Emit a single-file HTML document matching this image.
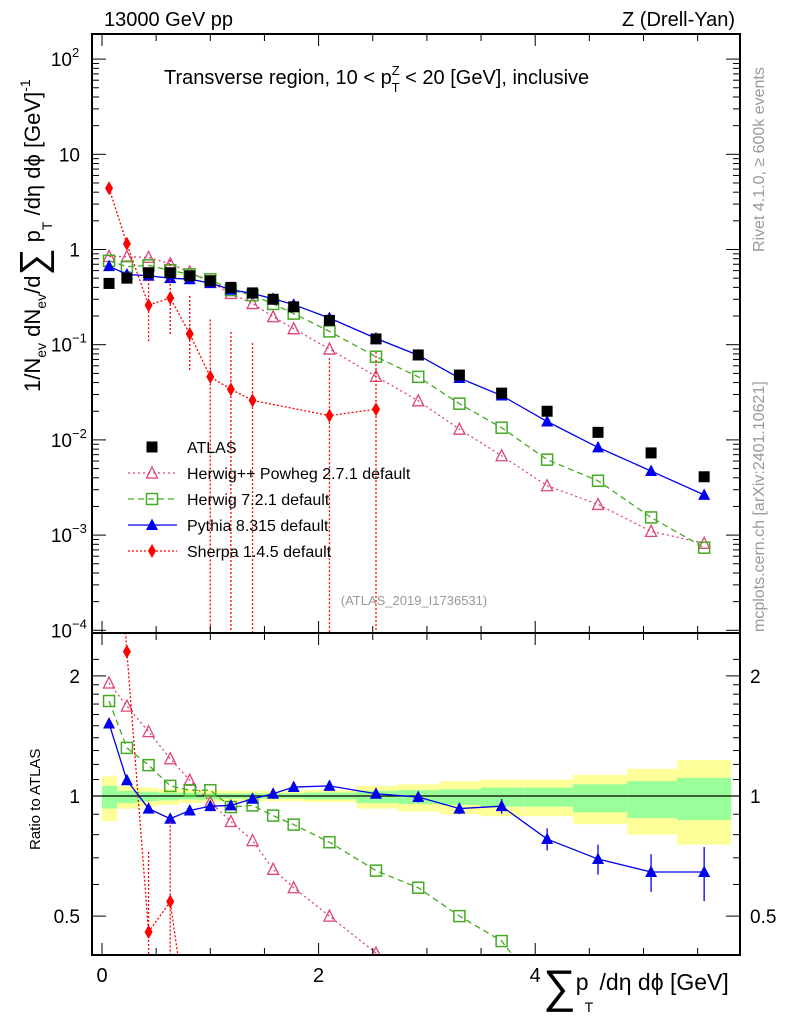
<!DOCTYPE html>
<html><head><meta charset="utf-8"><style>
html,body{margin:0;background:#fff;width:786px;height:1024px;overflow:hidden}
svg{font-family:"Liberation Sans",sans-serif;display:block;position:absolute;left:0;top:0}
</style></head><body>
<svg id="c" width="786" height="1024" xmlns="http://www.w3.org/2000/svg"></svg>
<script>
const xs=[0.065,0.23,0.43,0.63,0.81,1.0,1.19,1.39,1.58,1.77,2.1,2.53,2.92,3.3,3.69,4.11,4.58,5.07,5.56];
const edges=[0,0.14,0.33,0.52,0.71,0.91,1.1,1.29,1.48,1.68,1.87,2.35,2.73,3.12,3.5,3.89,4.35,4.85,5.31,5.81];
const atlas=[0.44,0.5,0.57,0.57,0.53,0.47,0.4,0.35,0.3,0.25,0.18,0.115,0.078,0.048,0.031,0.02,0.012,0.0073,0.0041];
const yelUp=[1.12,1.06,1.05,1.04,1.04,1.035,1.03,1.03,1.03,1.03,1.035,1.06,1.07,1.09,1.1,1.1,1.13,1.17,1.23];
const yelDn=[0.865,0.93,0.94,0.95,0.96,0.965,0.97,0.97,0.97,0.97,0.965,0.93,0.915,0.9,0.89,0.89,0.85,0.8,0.755];
const grnUp=[1.06,1.03,1.025,1.02,1.02,1.015,1.015,1.015,1.015,1.015,1.02,1.03,1.035,1.04,1.05,1.05,1.07,1.09,1.11];
const grnDn=[0.93,0.96,0.97,0.975,0.98,0.98,0.985,0.985,0.985,0.985,0.98,0.96,0.955,0.95,0.94,0.94,0.91,0.88,0.87];
const rHpp=[1.92,1.68,1.45,1.24,1.095,0.965,0.863,0.773,0.655,0.589,0.5,0.404,0.33,0.27,0.22,0.165,0.175,0.15,0.2];
const rH7=[1.73,1.32,1.195,1.06,1.034,1.034,0.938,0.947,0.893,0.848,0.766,0.65,0.589,0.5,0.433,0.31,0.31,0.21,0.18];
const rPy=[1.52,1.095,0.93,0.877,0.92,0.943,0.947,0.984,1.013,1.053,1.06,1.013,0.994,0.93,0.943,0.78,0.695,0.645,0.645];
const pyErr=[0,0,0,0,0,0,0,0.01,0.01,0.01,0.01,0.02,0.03,0.03,0.04,0.05,0.06,0.07,0.1];
const shX=[0.065,0.23,0.43,0.63,0.81,1.0,1.19,1.39,2.1,2.53];
const shV=[4.4,1.15,0.26,0.31,0.13,0.046,0.034,0.026,0.018,0.021];
const NS="http://www.w3.org/2000/svg",svg=document.getElementById('c');
const L=92,R=740,T=34,MB=633,RB=955;
const X=v=>102+v*108.3;
const Y=v=>249.5-95.2*Math.log10(v);
const YRc=v=>796-399*Math.log10(v);
function el(t,a,p){const e=document.createElementNS(NS,t);for(const k in a)e.setAttribute(k,a[k]);(p||svg).appendChild(e);return e;}
function txt(x,y,s,a,p){const e=el('text',Object.assign({x:x,y:y,'font-size':18},a||{}),p);e.textContent=s;return e;}
const defs=el('defs',{});
const c1=el('clipPath',{id:'cm'},defs);el('rect',{x:L,y:T,width:R-L,height:MB-T},c1);
const c2=el('clipPath',{id:'cr'},defs);el('rect',{x:L,y:MB,width:R-L,height:RB-MB},c2);
const gm=el('g',{'clip-path':'url(#cm)'});
const gr=el('g',{'clip-path':'url(#cr)'});
for(let i=0;i<xs.length;i++){
 const x0=X(edges[i]),x1=X(edges[i+1]);
 const b=el('rect',{x:x0,y:YRc(yelUp[i]),width:x1-x0,height:YRc(yelDn[i])-YRc(yelUp[i]),fill:'#ffff99'},gr);
 
 const g=el('rect',{x:x0,y:YRc(grnUp[i]),width:x1-x0,height:YRc(grnDn[i])-YRc(grnUp[i]),fill:'#99ff99'},gr);
 
}
el('line',{x1:L,x2:R,y1:YRc(1),y2:YRc(1),stroke:'#000','stroke-width':1.3},gr);
function marker(g,type,x,y,col){
 let m;
 if(type==='sq') m=el('rect',{x:x-5.5,y:y-5.5,width:11,height:11,fill:'#000'},g);
 else if(type==='osq') m=el('rect',{x:x-5.5,y:y-5.5,width:11,height:11,fill:'none',stroke:col,'stroke-width':1.5},g);
 else if(type==='otri') m=el('path',{d:`M${x},${y-6}L${x+5.5},${y+5}L${x-5.5},${y+5}Z`,fill:'none',stroke:col,'stroke-width':1.3},g);
 else if(type==='tri') m=el('path',{d:`M${x},${y-6.5}L${x+6},${y+5}L${x-6},${y+5}Z`,fill:col},g);
 else m=el('path',{d:`M${x},${y-7}L${x+4},${y}L${x},${y+7}L${x-4},${y}Z`,fill:col},g);
 
}
const series=[
 {name:'herwigpp',r:rHpp,col:'#dd4477',dash:'2,3',m:'otri'},
 {name:'herwig7',r:rH7,col:'#44aa22',dash:'6,4',m:'osq'},
 {name:'pythia',r:rPy,col:'#0000ee',dash:'',m:'tri'}];
for(const s of series){
 const mp=xs.map((x,i)=>[X(x),Y(s.r[i]*atlas[i])]);
 const rp=xs.map((x,i)=>[X(x),YRc(s.r[i])]);
 const l1=el('polyline',{points:mp.join(' '),fill:'none',stroke:s.col,'stroke-width':1.3,'stroke-dasharray':s.dash},gm);
 
 const l2=el('polyline',{points:rp.join(' '),fill:'none',stroke:s.col,'stroke-width':1.3,'stroke-dasharray':s.dash},gr);
 
 mp.forEach(p=>marker(gm,s.m,p[0],p[1],s.col));
 rp.forEach((p,i)=>{
  if(s.name==='pythia'&&pyErr[i]>0){el('line',{x1:p[0],x2:p[0],y1:YRc(s.r[i]+pyErr[i]),y2:YRc(s.r[i]-pyErr[i]),stroke:s.col,'stroke-width':1.3},gr);}
  marker(gr,s.m,p[0],p[1],s.col);});
}
const shM=shX.map((x,i)=>[X(x),Y(shV[i])]);
const shR=shX.map((x,i)=>[X(x),YRc(shV[i]/atlas[xs.indexOf(x)])]);
const sl=el('polyline',{points:shM.join(' '),fill:'none',stroke:'#ff0000','stroke-width':1.3,'stroke-dasharray':'2,2'},gm);

const sl2=el('polyline',{points:shR.join(' '),fill:'none',stroke:'#ff0000','stroke-width':1.3,'stroke-dasharray':'2,2'},gr);

shM.forEach((p,i)=>{if(i>=2){el('line',{x1:p[0],x2:p[0],y1:Y(shV[i]*(i>=5?4:2.5)),y2:i>=5?MB:Y(shV[i]/2.5),stroke:'#ff0000','stroke-width':1.3,'stroke-dasharray':'2,2'},gm);}marker(gm,'dia',p[0],p[1],'#ff0000');});
shR.forEach((p,i)=>{if(i>=2)el('line',{x1:p[0],x2:p[0],y1:p[1]-80,y2:RB,stroke:'#ff0000','stroke-width':1.3,'stroke-dasharray':'2,2'},gr);marker(gr,'dia',p[0],p[1],'#ff0000');});
atlas.forEach((v,i)=>marker(gm,'sq',X(xs[i]),Y(v),'#000'));
el('rect',{x:L,y:T,width:R-L,height:MB-T,fill:'none',stroke:'#000','stroke-width':2});
el('rect',{x:L,y:MB,width:R-L,height:RB-MB,fill:'none',stroke:'#000','stroke-width':2});
for(let v=0;v<=5.9;v+=0.5){const x=X(v),maj=Math.abs(v-Math.round(v/2)*2)<0.01;const h=maj?12:7;
 for(const [yb,yt] of [[MB,T],[RB,MB]]){el('line',{x1:x,x2:x,y1:yb,y2:yb-h,stroke:'#000'});el('line',{x1:x,x2:x,y1:yt,y2:yt+h,stroke:'#000'});}
 if(maj){const t=txt(x,982,String(Math.round(v)),{'text-anchor':'middle','font-size':20});}}
for(let e=-4;e<=2;e++){for(let k=1;k<10;k++){const v=k*Math.pow(10,e),y=Y(v);if(y<T||y>MB)continue;const h=k===1?14:7;
 el('line',{x1:L,x2:L+h,y1:y,y2:y,stroke:'#000'});el('line',{x1:R,x2:R-h,y1:y,y2:y,stroke:'#000'});}}
const ylab=[[2,'10','2'],[1,'10',''],[0,'1',''],[-1,'10','−1'],[-2,'10','−2'],[-3,'10','−3'],[-4,'10','−4']];
ylab.forEach(([e,b,s])=>{const y=Y(Math.pow(10,e))+7;const t=el('text',{x:s?72:80,y:y,'font-size':19,'text-anchor':'end'});t.textContent=b;
 
 if(s){txt(72,y-9,s,{'font-size':13});}});
[0.5,0.6,0.7,0.8,0.9,1,1.1,1.2,1.3,1.4,1.5,1.6,1.7,1.8,1.9,2,2.2].forEach(v=>{const y=YRc(v);if(y<MB||y>RB)return;const h=(v===0.5||v===1||v===2)?14:7;
 el('line',{x1:L,x2:L+h,y1:y,y2:y,stroke:'#000'});el('line',{x1:R,x2:R-h,y1:y,y2:y,stroke:'#000'});});
[[2,'2'],[1,'1'],[0.5,'0.5']].forEach(([v,s])=>{const y=YRc(v)+7;
 const a=txt(80,y,s,{'text-anchor':'end','font-size':19});
 const b=txt(750,y,s,{'font-size':19});});
const leg=[['ATLAS','sq','#000',''],['Herwig++ Powheg 2.7.1 default','otri','#dd4477','2,3'],['Herwig 7.2.1 default','osq','#44aa22','6,4'],['Pythia 8.315 default','tri','#0000ee',''],['Sherpa 1.4.5 default','dia','#ff0000','2,2']];
leg.forEach((l,i)=>{const y=447+i*26;const g=el('g',{});
 if(i>0)el('line',{x1:128,x2:177,y1:y,y2:y,stroke:l[2],'stroke-width':1.3,'stroke-dasharray':l[3]},g);
 marker(g,l[1],152,y,l[2]);txt(187,y+6,l[0],{'font-size':16},g);});
</script>
<svg width="786" height="1024" xmlns="http://www.w3.org/2000/svg">
<text x="104" y="26" font-size="20" font-family="Liberation Sans">13000 GeV pp</text>
<text x="735" y="26" font-size="20" text-anchor="end" font-family="Liberation Sans">Z (Drell-Yan)</text>
<text x="164" y="84" font-size="20" font-family="Liberation Sans">Transverse region, 10 &lt; p<tspan font-size="13" dy="-9">Z</tspan><tspan font-size="13" dx="-8" dy="17">T</tspan><tspan dy="-8"> &lt; 20 [GeV], inclusive</tspan></text>
<text x="414" y="605" font-size="13" fill="#999" text-anchor="middle" font-family="Liberation Sans">(ATLAS_2019_I1736531)</text>
<text transform="translate(764,252) rotate(-90)" font-size="16" fill="#999" font-family="Liberation Sans">Rivet 4.1.0, ≥ 600k events</text>
<text transform="translate(764,632) rotate(-90)" font-size="16" fill="#999" font-family="Liberation Sans">mcplots.cern.ch [arXiv:2401.10621]</text>
<text transform="translate(40,392) rotate(-90)" font-size="22" font-family="Liberation Sans">1/N<tspan font-size="14" dy="6">ev</tspan><tspan dy="-6"> dN</tspan><tspan font-size="14" dy="6">ev</tspan><tspan dy="-6">/d</tspan><tspan font-size="38" dy="6">∑</tspan><tspan dy="-6"> p</tspan><tspan font-size="14" dy="12">T</tspan><tspan dy="-12"> /dη dϕ  [GeV]</tspan><tspan font-size="14" dy="-10">-1</tspan></text>
<text transform="translate(40,850) rotate(-90)" font-size="15" font-family="Liberation Sans">Ratio to ATLAS</text>
<text x="543" y="1002" font-size="23" font-family="Liberation Sans"><tspan font-size="46">∑</tspan><tspan dy="-12">p</tspan><tspan font-size="14" dy="22" dx="-4">T</tspan><tspan dy="-22"> /dη dϕ [GeV]</tspan></text>
</svg>
</body></html>
